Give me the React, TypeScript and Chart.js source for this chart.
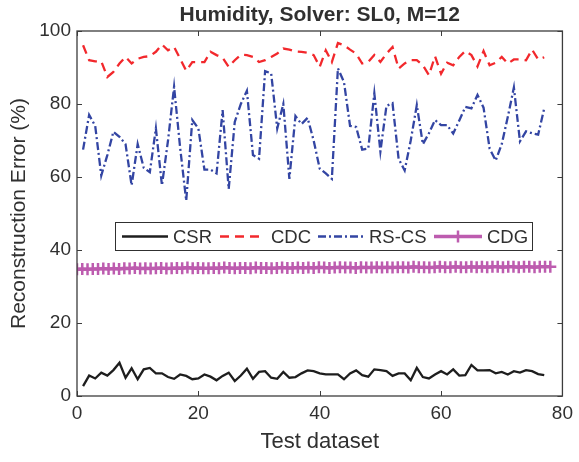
import React, { useEffect, useRef } from "react";
import { Chart, registerables } from "chart.js";

Chart.register(...registerables);

const titleText = "Humidity, Solver: SL0, M=12";
const xTitle = "Test dataset";
const yTitle = "Reconstruction Error (%)";
const seriesNames = ["CSR", "CDC", "RS-CS", "CDG"];
const xTickValues = [0, 20, 40, 60, 80];
const yTickValues = [0, 20, 40, 60, 80, 100];

const datasetIndex = Array.from({ length: 77 }, (_, i) => i + 1);

const csr = [
  2.7, 5.6, 4.8, 6.4, 5.6, 7.1, 9.1, 5.0, 7.6, 4.6,
  7.3, 7.7, 6.2, 6.2, 5.2, 4.7, 5.9, 5.5, 4.6, 4.8,
  5.9, 5.3, 4.3, 5.5, 6.4, 4.1, 5.6, 7.5, 4.7, 6.6,
  6.8, 5.0, 4.7, 6.6, 5.0, 5.2, 6.2, 7.0, 6.8, 6.2,
  5.9, 5.9, 5.9, 4.6, 6.2, 7.0, 5.7, 5.3, 7.3, 7.1,
  6.8, 5.5, 6.2, 6.2, 4.3, 7.7, 5.2, 4.8, 5.9, 6.8,
  5.9, 7.3, 5.6, 5.7, 8.5, 7.0, 7.0, 7.1, 6.2, 6.6,
  5.9, 6.8, 6.4, 7.1, 6.8, 6.0, 5.7,
];

const cdc = [
  96.1, 92.0, 91.7, 91.7, 87.4, 88.8, 91.1, 92.9, 91.1, 92.4,
  92.9, 93.1, 94.3, 96.3, 94.7, 95.6, 92.4, 89.1, 91.5, 91.5,
  91.5, 94.3, 93.4, 92.7, 90.2, 92.0, 93.5, 93.4, 92.9, 91.5,
  92.0, 92.9, 93.8, 95.2, 94.9, 94.4, 94.3, 94.0, 93.4, 90.2,
  94.7, 91.5, 96.7, 96.1, 94.9, 93.8, 91.1, 91.5, 93.4, 91.5,
  93.8, 95.6, 89.7, 91.1, 92.0, 92.0, 90.6, 87.9, 93.1, 88.3,
  91.3, 90.6, 92.9, 94.5, 93.4, 90.3, 94.5, 90.6, 91.3, 92.9,
  91.1, 92.2, 92.2, 92.0, 94.9, 92.2, 92.8,
];

const rscs = [
  67.5, 77.0, 74.0, 60.4, 66.0, 72.4, 71.0, 69.0, 57.7, 69.0,
  62.5, 61.3, 73.3, 57.7, 70.0, 84.7, 68.0, 53.5, 75.6, 73.3,
  62.0, 62.0, 61.0, 78.3, 56.7, 75.1, 80.0, 83.6, 66.0, 65.0,
  89.0, 88.4, 73.3, 80.0, 59.5, 76.7, 74.5, 76.2, 70.0, 62.3,
  61.0, 59.5, 89.8, 86.0, 74.0, 73.7, 67.5, 67.8, 82.9, 67.0,
  79.5, 80.2, 65.0, 61.8, 70.0, 79.7, 69.0, 72.0, 75.6, 74.2,
  74.2, 71.9, 75.5, 79.2, 78.8, 82.5, 79.0, 67.8, 64.5, 69.0,
  76.5, 84.5, 69.8, 72.5, 72.0, 71.6, 78.8,
];

const cdg = [
  34.7, 34.8, 34.7, 34.8, 34.8, 34.9, 34.8, 34.9, 34.8, 35.0,
  34.9, 35.1, 34.9, 35.0, 34.9, 35.0, 35.1, 34.9, 35.0, 35.1,
  35.0, 35.2, 35.0, 35.1, 35.0, 35.0, 35.1, 35.0, 35.2, 35.1,
  35.0, 35.1, 35.1, 35.0, 35.2, 35.1, 35.1, 35.0, 35.1, 35.2,
  35.1, 35.1, 35.2, 35.1, 35.2, 35.1, 35.3, 35.2, 35.1, 35.2,
  35.3, 35.2, 35.2, 35.1, 35.3, 35.2, 35.2, 35.3, 35.2, 35.3,
  35.2, 35.3, 35.3, 35.2, 35.4, 35.3, 35.3, 35.2, 35.3, 35.4,
  35.3, 35.3, 35.4, 35.3, 35.3, 35.4, 35.3, 35.4, 35.3, 35.4,
  35.4, 35.3, 35.4, 35.4, 35.3, 35.4, 35.4, 35.3, 35.4, 35.4,
  35.4,
];
const cdgXStart = 0;
const cdgXEnd = 78;

const colors = {
  csr: "#1e1e1e",
  cdc: "#f2282c",
  rscs: "#3345a3",
  cdg: "#bd5caf",
  axis: "#3c3c3c",
  text: "#303030",
};

const FONT = "'Liberation Sans', Arial, Helvetica, sans-serif";

const framePlugin = {
  id: "frameAndLegend",
  afterDraw(chart: any) {
    const { ctx, chartArea: a, scales } = chart;
    ctx.save();
    ctx.strokeStyle = colors.axis;
    ctx.lineWidth = 1.3;
    ctx.setLineDash([]);
    ctx.strokeRect(a.left, a.top, a.right - a.left, a.bottom - a.top);
    const tl = 5;
    ctx.lineWidth = 1;
    ctx.beginPath();
    xTickValues.forEach((v) => {
      const px = Math.round(scales.x.getPixelForValue(v)) + 0.5;
      ctx.moveTo(px, a.bottom);
      ctx.lineTo(px, a.bottom - tl);
      ctx.moveTo(px, a.top);
      ctx.lineTo(px, a.top + tl);
    });
    yTickValues.forEach((v) => {
      const py = Math.round(scales.y.getPixelForValue(v)) + 0.5;
      ctx.moveTo(a.left, py);
      ctx.lineTo(a.left + tl, py);
      ctx.moveTo(a.right, py);
      ctx.lineTo(a.right - tl, py);
    });
    ctx.stroke();

    ctx.fillStyle = colors.text;
    ctx.textAlign = "center";
    ctx.textBaseline = "middle";
    ctx.font = `bold 21px ${FONT}`;
    ctx.fillText(titleText, (a.left + a.right) / 2, 15);
    ctx.font = `22px ${FONT}`;
    ctx.fillText(xTitle, (a.left + a.right) / 2, 442);
    ctx.save();
    ctx.translate(19, (a.top + a.bottom) / 2);
    ctx.rotate(-Math.PI / 2);
    ctx.font = `21px ${FONT}`;
    ctx.fillText(yTitle, 0, 0);
    ctx.restore();

    const lx = 115, ly = 222, lw = 417, lh = 28;
    ctx.fillStyle = "#ffffff";
    ctx.fillRect(lx, ly, lw, lh);
    ctx.strokeStyle = colors.text;
    ctx.lineWidth = 1;
    ctx.strokeRect(lx + 0.5, ly + 0.5, lw, lh);
    const cy = ly + lh / 2 + 0.5;
    const items = [
      { x0: 122, x1: 168, tx: 173, color: colors.csr, dash: [], w: 2.3, marker: false },
      { x0: 220, x1: 263, tx: 271, color: colors.cdc, dash: [9, 6], w: 2.3, marker: false },
      { x0: 318, x1: 366, tx: 369, color: colors.rscs, dash: [8, 3, 2, 3], w: 2.3, marker: false },
      { x0: 434, x1: 482, tx: 487, color: colors.cdg, dash: [], w: 3.5, marker: true },
    ];
    ctx.font = `18.5px ${FONT}`;
    ctx.textAlign = "left";
    items.forEach((it, i) => {
      ctx.strokeStyle = it.color;
      ctx.lineWidth = it.w;
      ctx.setLineDash(it.dash);
      ctx.beginPath();
      ctx.moveTo(it.x0, cy);
      ctx.lineTo(it.x1, cy);
      ctx.stroke();
      ctx.setLineDash([]);
      if (it.marker) {
        const mx = (it.x0 + it.x1) / 2;
        ctx.lineWidth = 2.5;
        ctx.beginPath();
        ctx.moveTo(mx, cy - 6);
        ctx.lineTo(mx, cy + 6);
        ctx.stroke();
      }
      ctx.fillStyle = colors.text;
      ctx.fillText(seriesNames[i], it.tx, cy + 1);
    });
    ctx.restore();
  },
};

export default function App() {
  const ref = useRef<HTMLCanvasElement | null>(null);
  useEffect(() => {
    document.body.style.margin = "0";
    if (!ref.current) return;
    const toPts = (vals: number[]) => vals.map((y, i) => ({ x: datasetIndex[i], y }));
    const cdgStep = (cdgXEnd - cdgXStart) / (cdg.length - 1);
    const cdgPts = cdg.map((y, i) => ({ x: cdgXStart + i * cdgStep, y }));
    const chart = new Chart(ref.current, {
      type: "line",
      data: {
        datasets: [
          {
            label: seriesNames[3],
            data: cdgPts,
            borderColor: colors.cdg,
            backgroundColor: colors.cdg,
            borderWidth: 3.5,
            pointStyle: "cross",
            pointRadius: 6,
            pointBorderWidth: 2.5,
            pointBorderColor: colors.cdg,
            tension: 0,
          },
          {
            label: seriesNames[0],
            data: toPts(csr),
            borderColor: colors.csr,
            borderWidth: 2.3,
            pointRadius: 0,
            tension: 0,
          },
          {
            label: seriesNames[1],
            data: toPts(cdc),
            borderColor: colors.cdc,
            borderWidth: 2.3,
            borderDash: [9, 6],
            pointRadius: 0,
            tension: 0,
          },
          {
            label: seriesNames[2],
            data: toPts(rscs),
            borderColor: colors.rscs,
            borderWidth: 2.3,
            borderDash: [8, 3, 2, 3],
            pointRadius: 0,
            tension: 0,
          },
        ],
      },
      options: {
        animation: false,
        responsive: false,
        maintainAspectRatio: false,
        devicePixelRatio: 1,
        layout: { padding: { top: 31, right: 11, left: 0, bottom: 0 } },
        plugins: {
          legend: { display: false },
          title: { display: false },
          tooltip: { enabled: false },
        },
        scales: {
          x: {
            type: "linear",
            min: 0,
            max: 80,
            grid: { display: false, drawTicks: false },
            border: { display: false },
            ticks: {
              stepSize: 20,
              padding: 6,
              color: colors.text,
              font: { family: FONT, size: 19 },
              maxRotation: 0,
            },
            afterFit: (s: any) => {
              s.height = 66;
            },
          },
          y: {
            type: "linear",
            min: 0,
            max: 100,
            grid: { display: false, drawTicks: false },
            border: { display: false },
            ticks: {
              stepSize: 20,
              padding: 6,
              color: colors.text,
              font: { family: FONT, size: 19 },
            },
            afterFit: (s: any) => {
              s.width = 77;
            },
          },
        },
      },
      plugins: [framePlugin],
    });
    return () => chart.destroy();
  }, []);
  return (
    <div style={{ position: "absolute", left: 0, top: 0, width: 579, height: 462, background: "#fff" }}>
      <canvas ref={ref} width={579} height={462} style={{ width: 579, height: 462 }} />
    </div>
  );
}
